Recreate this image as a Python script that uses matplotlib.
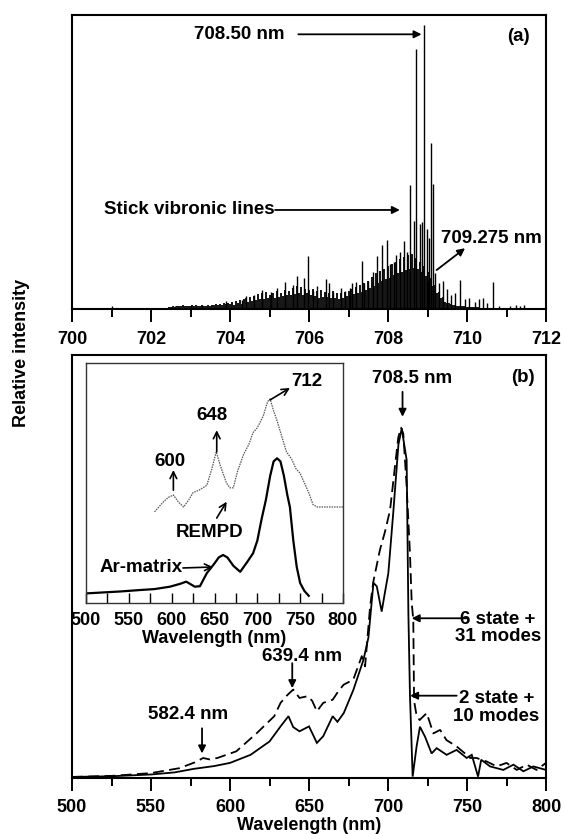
import numpy as np
import matplotlib
matplotlib.use('Agg')
import matplotlib.pyplot as plt
from matplotlib.ticker import MultipleLocator

plt.rcParams['font.family'] = ['Liberation Sans', 'DejaVu Sans']
plt.rcParams['font.weight'] = 'bold'
plt.rcParams['axes.labelweight'] = 'bold'

# ---------------- Panel (a): stick vibronic spectrum ----------------
# dense background sticks, 0.05 nm apart, from 702.40 nm to 711.50 nm
bg_start, bg_step = 702.40, 0.05
bg_heights = [0.005, 0.008, 0.006, 0.010, 0.008, 0.012, 0.010, 0.009, 0.013, 0.011, 0.010, 0.012,
              0.010, 0.013, 0.011, 0.015, 0.012, 0.010, 0.014, 0.012, 0.011, 0.013,
              0.012, 0.015, 0.013, 0.016, 0.014, 0.018, 0.015, 0.020, 0.017, 0.022,
              0.018, 0.026, 0.015, 0.028, 0.020, 0.032, 0.018, 0.034, 0.040, 0.024,
              0.042, 0.028, 0.046, 0.030, 0.052, 0.034, 0.055, 0.036, 0.060, 0.038,
              0.050, 0.036, 0.058, 0.040, 0.062, 0.042, 0.056, 0.045, 0.066, 0.048,
              0.062, 0.048, 0.075, 0.052, 0.080, 0.056, 0.078, 0.050, 0.072, 0.055,
              0.068, 0.048, 0.070, 0.045, 0.062, 0.040, 0.066, 0.042, 0.060, 0.044,
              0.058, 0.040, 0.062, 0.038, 0.055, 0.036, 0.058, 0.040, 0.060, 0.045,
              0.065, 0.048, 0.070, 0.052, 0.078, 0.056, 0.085, 0.060, 0.092, 0.068,
              0.100, 0.075, 0.112, 0.082, 0.125, 0.090, 0.135, 0.098, 0.140, 0.105,
              0.150, 0.110, 0.158, 0.118, 0.165, 0.125, 0.175, 0.130, 0.182, 0.138,
              0.190, 0.140, 0.195, 0.145, 0.180, 0.140, 0.165, 0.130, 0.150, 0.115,
              0.130, 0.095, 0.110, 0.080, 0.085, 0.055, 0.060, 0.038, 0.042, 0.025,
              0.022, 0.020, 0.018, 0.015, 0.014, 0.012, 0.011, 0.010, 0.010, 0.009,
              0.008, 0.008, 0.007, 0.007, 0.006, 0.006, 0.006, 0.005, 0.005, 0.005,
              0.005, 0.004, 0.004, 0.004, 0.004, 0.003, 0.003, 0.003, 0.003, 0.003,
              0.003, 0.003, 0.004, 0.003, 0.004, 0.005, 0.004, 0.005, 0.004, 0.003, 0.002]
bg_wl = bg_start + bg_step * np.arange(len(bg_heights))

# individual prominent sticks
stick_wl = [701.00, 702.60, 703.30, 703.90, 704.30, 704.40, 704.60, 704.80, 705.05, 705.20,
            705.40, 705.60, 705.70, 705.88, 705.98, 706.10, 706.20, 706.44, 706.50, 706.60,
            706.80, 706.92, 707.04, 707.10, 707.20, 707.34, 707.40, 707.50, 707.62, 707.73,
            707.84, 707.97, 708.05, 708.15, 708.20, 708.30, 708.41, 708.47, 708.56, 708.65,
            708.72, 708.80, 708.85, 708.90, 708.98, 709.05, 709.09, 709.13, 709.20, 709.30,
            709.40, 709.50, 709.60, 709.70, 709.82, 709.95, 710.05, 710.20, 710.30, 710.40,
            710.50, 710.67, 710.80, 711.10, 711.25, 711.35, 711.45]
stick_h = [0.010, 0.012, 0.015, 0.027, 0.030, 0.045, 0.048, 0.068, 0.060, 0.075,
           0.094, 0.085, 0.115, 0.110, 0.185, 0.065, 0.080, 0.105, 0.090, 0.060,
           0.075, 0.062, 0.075, 0.090, 0.095, 0.168, 0.090, 0.100, 0.130, 0.185,
           0.225, 0.244, 0.160, 0.165, 0.190, 0.200, 0.238, 0.200, 0.438, 0.310,
           0.915, 0.300, 0.305, 1.000, 0.280, 0.250, 0.585, 0.440, 0.127, 0.090,
           0.100, 0.070, 0.050, 0.056, 0.103, 0.035, 0.040, 0.025, 0.035, 0.040,
           0.020, 0.094, 0.012, 0.010, 0.015, 0.012, 0.015]

# ---------------- Panel (b): simulated spectra ----------------
wl_2state = [500, 525, 550, 565, 577, 590, 600, 613, 625, 632, 637, 640, 644, 650, 655, 659,
             665, 668, 672, 678, 684.5, 687.6, 690.8, 692.9, 696, 698, 700.2, 703.4, 706.6,
             708.7, 710.8, 711.8, 712.9, 713.9, 715.6, 718.1, 720.2, 723.4, 727.6, 730.8,
             737.1, 743.4, 749.8, 753, 757, 759, 764.6, 773, 779.4, 785.7, 792, 800]
int_2state = [0.003, 0.005, 0.010, 0.016, 0.026, 0.034, 0.043, 0.066, 0.104, 0.147, 0.176,
              0.145, 0.133, 0.147, 0.100, 0.119, 0.176, 0.160, 0.185, 0.250, 0.337, 0.400,
              0.556, 0.546, 0.474, 0.527, 0.583, 0.760, 0.950, 0.996, 0.934, 0.906, 0.469,
              0.236, 0.004, 0.090, 0.146, 0.118, 0.070, 0.085, 0.066, 0.080, 0.057, 0.066,
              0.004, 0.052, 0.033, 0.023, 0.038, 0.019, 0.033, 0.023]

wl_6state = [500, 525, 550, 568, 578, 583, 587, 592, 604, 617, 628, 632, 636, 640, 644, 649,
             652, 655, 659, 665, 669, 672, 678, 683.4, 685.5, 688.7, 690.7, 694.9, 698, 701.3,
             704.4, 706.5, 708.3, 709.7, 711.8, 713.9, 715, 716, 716.5, 718, 720, 724.5,
             728.7, 733, 737, 743.4, 748.7, 752, 756, 762.5, 768.8, 775, 781.5, 787.8, 794, 800]
int_6state = [0.003, 0.006, 0.014, 0.028, 0.045, 0.057, 0.053, 0.057, 0.076, 0.128, 0.176,
              0.214, 0.235, 0.252, 0.228, 0.233, 0.220, 0.190, 0.214, 0.223, 0.250, 0.266,
              0.280, 0.347, 0.318, 0.490, 0.559, 0.650, 0.700, 0.763, 0.887, 0.970, 0.998,
              0.980, 0.830, 0.640, 0.500, 0.450, 0.220, 0.180, 0.165, 0.185, 0.127, 0.137,
              0.108, 0.090, 0.070, 0.057, 0.057, 0.047, 0.033, 0.043, 0.023, 0.038, 0.023, 0.043]

# ---------------- Inset: experimental spectra ----------------
wl_ar = [500, 520, 540, 563, 580, 598, 610, 617, 627, 633, 641, 650, 655, 660, 665, 672, 680,
         688, 695, 700, 705, 710, 715, 719, 723, 727, 731, 735, 738, 742, 746, 750, 755, 760]
int_ar = [0.040, 0.044, 0.048, 0.054, 0.058, 0.068, 0.080, 0.089, 0.068, 0.070, 0.124, 0.165,
          0.190, 0.200, 0.190, 0.155, 0.130, 0.170, 0.207, 0.260, 0.350, 0.430, 0.530, 0.590,
          0.603, 0.590, 0.530, 0.450, 0.400, 0.260, 0.150, 0.083, 0.050, 0.030]

wl_rempd = [580, 590, 596, 602, 608, 614, 620, 625, 632, 641, 647, 652, 657, 664, 668, 672,
            677, 684, 690, 695, 700, 707, 712, 715, 719, 723, 728, 734, 740, 745, 750, 755,
            760, 765, 770, 781, 790, 800]
int_rempd = [0.38, 0.42, 0.44, 0.45, 0.42, 0.40, 0.43, 0.46, 0.47, 0.49, 0.56, 0.63, 0.57,
             0.50, 0.48, 0.48, 0.55, 0.62, 0.66, 0.71, 0.73, 0.78, 0.84, 0.85, 0.80, 0.76,
             0.70, 0.63, 0.60, 0.56, 0.54, 0.50, 0.46, 0.41, 0.40, 0.40, 0.40, 0.40]

FS = 13
FA = 13.5

fig = plt.figure(figsize=(5.66, 8.34), dpi=100)
W, H = 566.0, 834.0
axa = fig.add_axes([72 / W, 1 - 309 / H, 474 / W, 294 / H])
axb = fig.add_axes([72 / W, 1 - 778 / H, 474 / W, 423 / H])
axi = fig.add_axes([86 / W, 1 - 603 / H, 257 / W, 240 / H])

for ax in (axa, axb):
    for s in ax.spines.values():
        s.set_linewidth(1.5)
    ax.set_yticks([])
    ax.xaxis.set_minor_locator(MultipleLocator(1 if ax is axa else 25))
    ax.tick_params(axis='x', which='major', direction='out', length=9.5, width=1.4,
                   labelsize=FS)
    ax.tick_params(axis='x', which='minor', direction='out', length=5.5, width=1.4)

# ----- panel (a) -----
axa.vlines(bg_wl, 0, bg_heights, color='black', lw=1.3)
axa.vlines(stick_wl, 0, stick_h, color='black', lw=1.0)
axa.set_xlim(700, 712)
axa.set_ylim(0, 1.035)
axa.xaxis.set_major_locator(MultipleLocator(2))
axa.tick_params(axis='x', which='major', pad=6)

ap_fill = dict(arrowstyle='-|>', color='black', lw=1.3, mutation_scale=11, shrinkA=0, shrinkB=0)
axa.annotate('', xy=(708.85, 0.967), xytext=(705.73, 0.967), arrowprops=ap_fill)
axa.text(704.23, 0.965, '708.50 nm', ha='center', va='center', fontsize=FA)
axa.text(711.3, 0.959, '(a)', ha='center', va='center', fontsize=FA)
axa.annotate('', xy=(708.3, 0.3486), xytext=(705.14, 0.3486), arrowprops=ap_fill)
axa.text(705.14, 0.3486, 'Stick vibronic lines', ha='right', va='center', fontsize=FA)
axa.annotate('', xy=(709.95, 0.214), xytext=(709.23, 0.137), arrowprops=ap_fill)
axa.text(710.61, 0.249, '709.275 nm', ha='center', va='center', fontsize=FA)

# ----- panel (b) -----
axb.plot(wl_2state, int_2state, color='black', lw=1.3, solid_joinstyle='miter')
axb.plot(wl_6state, int_6state, color='black', lw=1.3, dashes=(6, 3))
axb.set_xlim(500, 800)
axb.set_ylim(0, 1.205)
axb.xaxis.set_major_locator(MultipleLocator(50))
axb.tick_params(axis='x', which='major', pad=5.5)
axb.set_xlabel('Wavelength (nm)', fontsize=FS, labelpad=1)

axb.annotate('', xy=(709.2, 1.029), xytext=(709.2, 1.10), arrowprops=ap_fill)
axb.text(715, 1.139, '708.5 nm', ha='center', va='center', fontsize=FA)
axb.text(785.4, 1.14, '(b)', ha='center', va='center', fontsize=FA)
axb.annotate('', xy=(715, 0.455), xytext=(749.8, 0.455), arrowprops=ap_fill)
axb.text(769.5, 0.427, '6 state +\n31 modes', ha='center', va='center', fontsize=FA,
         linespacing=1.05)
axb.annotate('', xy=(714, 0.2345), xytext=(743.5, 0.2345), arrowprops=ap_fill)
axb.text(768.5, 0.20, '2 state +\n10 modes', ha='center', va='center', fontsize=FA,
         linespacing=1.05)
axb.annotate('', xy=(639.4, 0.256), xytext=(639.4, 0.327), arrowprops=ap_fill)
axb.text(645.4, 0.3456, '639.4 nm', ha='center', va='center', fontsize=FA)
axb.annotate('', xy=(582.3, 0.07), xytext=(582.3, 0.1416), arrowprops=ap_fill)
axb.text(573.6, 0.18, '582.4 nm', ha='center', va='center', fontsize=FA)

# ----- inset -----
axi.set_facecolor('white')
for s in axi.spines.values():
    s.set_linewidth(1.0)
    s.set_color('#333333')
axi.plot(wl_ar, int_ar, color='black', lw=1.6)
axi.plot(wl_rempd, int_rempd, color='#555555', lw=0.9, dashes=(1.2, 0.8))
axi.set_xlim(500, 800)
axi.set_ylim(0, 1)
axi.set_yticks([])
axi.xaxis.set_major_locator(MultipleLocator(50))
axi.xaxis.set_minor_locator(MultipleLocator(25))
axi.tick_params(axis='x', which='both', direction='in', length=7, width=1.0,
                labelsize=FS, pad=6.5)
axi.set_xlabel('Wavelength (nm)', fontsize=FS, labelpad=1)

ap_open = dict(arrowstyle='->', color='black', lw=1.2, mutation_scale=12, shrinkA=0, shrinkB=0)
axi.annotate('', xy=(738.1, 0.896), xytext=(714.8, 0.846), arrowprops=ap_open)
axi.text(757.6, 0.922, '712', ha='center', va='center', fontsize=FA)
axi.annotate('', xy=(652.6, 0.72), xytext=(652.6, 0.63), arrowprops=ap_open)
axi.text(646.7, 0.783, '648', ha='center', va='center', fontsize=FA)
axi.annotate('', xy=(602, 0.554), xytext=(602, 0.47), arrowprops=ap_open)
axi.text(598, 0.589, '600', ha='center', va='center', fontsize=FA)
axi.annotate('', xy=(664.2, 0.422), xytext=(652.6, 0.354), arrowprops=ap_open)
axi.text(644.7, 0.292, 'REMPD', ha='center', va='center', fontsize=FA)
axi.annotate('', xy=(648.2, 0.15), xytext=(613.2, 0.146), arrowprops=ap_open)
axi.text(613.2, 0.146, 'Ar-matrix', ha='right', va='center', fontsize=FA)

fig.text(21.7 / W, 1 - 353 / H, 'Relative intensity', rotation=90, ha='center', va='center',
         fontsize=FS)

fig.savefig('out.png', dpi=100)
